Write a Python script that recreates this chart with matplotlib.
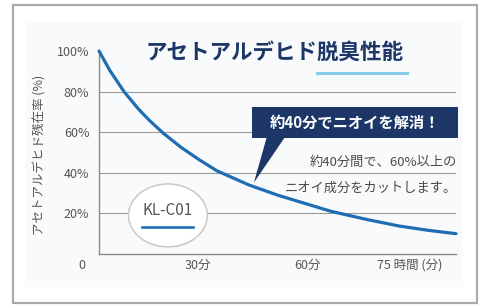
import matplotlib
matplotlib.use("Agg")
import matplotlib.pyplot as plt
from matplotlib.patches import Ellipse, Rectangle, Polygon

plt.rcParams['font.family'] = ['Noto Sans CJK JP', 'DejaVu Sans']

# data (minutes, remaining %)
minutes = [0, 3, 7, 11, 14, 18, 23, 28, 33, 42, 50, 56, 65, 75, 84, 92, 100]
remaining = [100, 90.5, 80, 71.5, 66, 59.5, 52.5, 46.5, 41, 34, 29, 25.8, 21, 17,
             13.8, 11.7, 10]

ytick_vals = [20, 40, 60, 80, 100]
ytick_labels = ["20%", "40%", "60%", "80%", "100%"]
xtick_labels = ["0", "30分", "60分"]
xtick_pos = [-4.8, 27.7, 58.5]
x_unit_label = "75 時間 (分)"

title = "アセトアルデヒド脱臭性能"
ylabel = "アセトアルデヒド残在率 (%)"
callout = "約40分でニオイを解消！"
note1 = "約40分間で、60%以上の"
note2 = "ニオイ成分をカットします。"
product = "KL-C01"

blue = "#1f6db3"
navy = "#1c3767"
gray_txt = "#555555"

fig = plt.figure(figsize=(4.79, 3.06), dpi=100)
fig.patch.set_facecolor("white")

# frame and faint panel
fig.patches.append(Rectangle((0.052, 0.062), 0.915, 0.866, transform=fig.transFigure,
                             facecolor="#f9fafb", edgecolor="none", zorder=-2))
fig.patches.append(Rectangle((0.027, 0.010), 0.969, 0.974, transform=fig.transFigure,
                             facecolor="none", edgecolor="#aaaaaa", lw=1.6, zorder=-1))

ax = fig.add_axes([0.2067, 0.170, 0.7453, 0.6634])
ax.set_zorder(2)
ax.set_facecolor("none")
ax.set_xlim(0, 100)
ax.set_ylim(0, 100)

for v in ytick_vals[:-1]:
    ax.axhline(v, color="#9a9a9a", lw=0.8, zorder=1)

for s in ["top", "right"]:
    ax.spines[s].set_visible(False)
ax.spines["left"].set_color("#8a8a8a")
ax.spines["bottom"].set_color("#8a8a8a")
ax.spines["left"].set_linewidth(1.0)
ax.spines["bottom"].set_linewidth(1.0)

ax.set_yticks(ytick_vals)
ax.set_yticklabels(ytick_labels)
ax.tick_params(axis="y", length=0, pad=7, labelsize=9, labelcolor=gray_txt)
ax.set_xticks([])

for p, lab in zip(xtick_pos, xtick_labels):
    ax.text(p, -5.5, lab, ha="center", va="center", fontsize=9, color=gray_txt)
ax.text(78, -5.5, x_unit_label, ha="left", va="center", fontsize=9, color=gray_txt)

# curve
ax.plot(minutes, remaining, color=blue, lw=2.3, solid_capstyle="round",
        solid_joinstyle="round", clip_on=False, zorder=4)

# product ellipse
ax.add_patch(Ellipse((19.3, 19.0), 22.1, 31, facecolor="white", edgecolor="#c8c8c8",
                     lw=1.1, zorder=3))
ax.text(19.3, 21.2, product, ha="center", va="center", fontsize=11, color=gray_txt,
        zorder=5)
ax.plot([12, 26.3], [13.3, 13.3], color=blue, lw=1.9, zorder=5)

# callout box
ax.add_patch(Rectangle((42.9, 57.1), 57.7, 15.3, facecolor=navy, edgecolor="none",
                       zorder=6, clip_on=False))
ax.add_patch(Polygon([(47.0, 57.6), (52.1, 57.6), (43.4, 35.2)], closed=True,
                     facecolor=navy, edgecolor="none", zorder=6, clip_on=False))
ax.text(71.7, 64.8, callout, ha="center", va="center", fontsize=11, color="white",
        fontweight="bold", zorder=7)

ax.text(100.4, 45.3, note1, ha="right", va="center", fontsize=9.5, color="#4a4a4a",
        zorder=5)
ax.text(100.4, 32.5, note2, ha="right", va="center", fontsize=9.5, color="#4a4a4a",
        zorder=5)

# title and underline
fig.text(0.574, 0.830, title, ha="center", va="center", fontsize=15.5,
         fontweight="bold", color=navy)
fig.lines.append(plt.Line2D([0.662, 0.850], [0.761, 0.761], transform=fig.transFigure,
                            color="#86cbe9", lw=2.2))

fig.text(0.0835, 0.4935, ylabel, rotation=90, ha="center", va="center", fontsize=9,
         color=gray_txt)

fig.savefig("out.png", dpi=100)
